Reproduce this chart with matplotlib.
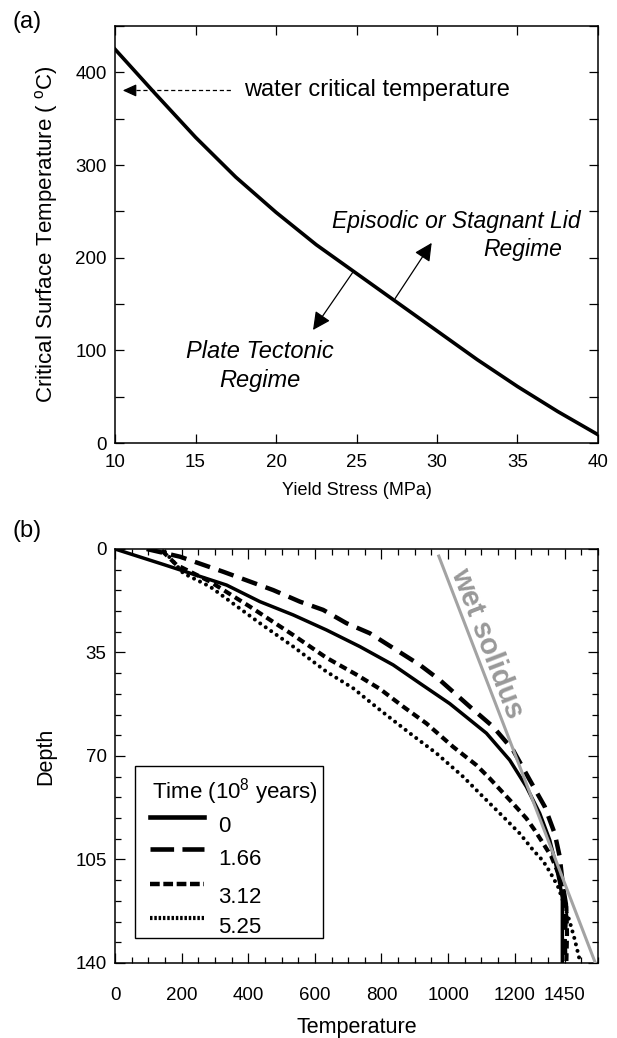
import numpy as np
import matplotlib
matplotlib.use('Agg')
import matplotlib.pyplot as plt
from matplotlib.ticker import MultipleLocator
from matplotlib.patches import Rectangle

plt.rcParams['font.family'] = ['Liberation Sans', 'DejaVu Sans']
plt.rcParams['mathtext.default'] = 'regular'
plt.rcParams['lines.scale_dashes'] = False

# (a) critical surface temperature vs yield stress
yield_stress = [10, 12.5, 15, 17.5, 20, 22.5, 25, 27.5, 30, 32.5, 35, 37.5, 40]
crit_temp = [425, 377, 330, 287, 249, 214, 183, 152, 121, 90, 61, 34, 9]

# (b) geotherms, temperature vs depth
time_labels = ['0', '1.66', '3.12', '5.25']
temp_0 = [0, 150, 335, 435, 535, 635, 735, 835, 915, 1005, 1115, 1185, 1235, 1275, 1305, 1322, 1335, 1343, 1343]
depth_0 = [0, 5.4, 12.2, 17.8, 22.3, 27.4, 33, 39.2, 45.4, 52.3, 62.3, 71.4, 80.4, 89.4, 98.4, 106, 113, 118, 140]
temp_1 = [95, 195, 325, 475, 555, 625, 695, 765, 845, 915, 975, 1065, 1135, 1195, 1245, 1290, 1320, 1335,
          1345, 1355, 1350, 1352]
depth_1 = [0, 2.6, 7.7, 13.9, 17.8, 20.6, 25.1, 28.5, 34.2, 39.2, 44.3, 53.3, 60.1, 68, 78.1, 87.1, 96.2, 104,
           114.2, 121, 132, 140]
temp_2 = [140, 185, 285, 405, 535, 635, 725, 795, 865, 935, 1015, 1085, 1125, 1195, 1235, 1260, 1285, 1310,
          1335, 1355, 1357, 1355]
depth_2 = [0.5, 5.4, 11, 19.5, 29.1, 36.8, 42.5, 47.3, 53.3, 59, 66.9, 73.1, 77.6, 86.1, 91.1, 95.1, 99.5, 104,
           110.8, 121, 130, 140]
temp_3 = [150, 205, 285, 435, 535, 635, 715, 795, 885, 965, 1045, 1105, 1165, 1215, 1255, 1285, 1305, 1330,
          1345, 1365, 1380, 1395]
depth_3 = [1, 8.2, 12.7, 25.1, 33, 41.5, 47.1, 54.4, 62.3, 69.1, 77, 83.8, 90.5, 96.2, 101.8, 105.5, 109.1,
           114.2, 119, 126, 132, 139]
solidus_temp = [972, 1442]
solidus_depth = [2.4, 140]

fig = plt.figure(figsize=(6.17, 10.38), dpi=100)
ax1 = fig.add_axes([0.1864, 0.5732, 0.7828, 0.4017])
ax2 = fig.add_axes([0.1864, 0.0723, 0.7828, 0.3988])

for ax in (ax1, ax2):
    for s in ax.spines.values():
        s.set_linewidth(1.1)

# ---- panel (a)
ax1.plot(yield_stress, crit_temp, color='k', lw=2.6)
ax1.set_xlim(10, 40)
ax1.set_ylim(0, 450)
ax1.set_xticks(np.arange(10, 41, 5))
ax1.set_yticks(np.arange(0, 401, 100))
ax1.yaxis.set_minor_locator(MultipleLocator(50))
ax1.tick_params(which='both', direction='in', top=True, right=True, length=6.5, width=0.9, labelsize=13.5)
ax1.tick_params(axis='x', pad=8)
ax1.tick_params(axis='y', pad=6)
ax1.set_xlabel('Yield Stress (MPa)', fontsize=13, labelpad=8)
ax1.set_ylabel('Critical Surface Temperature ( $^{o}$C)', fontsize=16, labelpad=11)

ax1.plot([10.9, 17.25], [380.5, 380.5], color='k', lw=0.9, ls=(0, (3, 2)))
ax1.annotate('', xy=(10.48, 380.5), xytext=(11.2, 380.5),
             arrowprops=dict(arrowstyle='-|>,head_length=0.55,head_width=0.25', color='k', lw=0.9,
                             shrinkA=0, shrinkB=0, mutation_scale=15))
ax1.text(18.0, 380.5, 'water critical temperature', fontsize=17, ha='left', va='center')

ax1.text(38.9, 239, 'Episodic or Stagnant Lid', fontsize=16.5, style='italic', ha='right', va='center')
ax1.text(37.8, 208.6, 'Regime', fontsize=16.5, style='italic', ha='right', va='center')
ax1.annotate('', xy=(29.67, 216), xytext=(27.4, 156),
             arrowprops=dict(arrowstyle='-|>,head_length=0.6,head_width=0.3', color='k', lw=0.9,
                             shrinkA=0, shrinkB=0, mutation_scale=18))
ax1.text(19.0, 98.7, 'Plate Tectonic', fontsize=17, style='italic', ha='center', va='center')
ax1.text(19.0, 68, 'Regime', fontsize=17, style='italic', ha='center', va='center')
ax1.annotate('', xy=(22.3, 122), xytext=(24.8, 185),
             arrowprops=dict(arrowstyle='-|>,head_length=0.6,head_width=0.3', color='k', lw=0.9,
                             shrinkA=0, shrinkB=0, mutation_scale=18))

# ---- panel (b)
styles = [dict(lw=2.5, ls='-'),
          dict(lw=3.2, ls=(0, (11.5, 6.5))),
          dict(lw=3.0, ls=(0, (5.6, 3.4))),
          dict(lw=2.9, ls=(0, (0.01, 4.8)), dash_capstyle='round')]
series = [(temp_0, depth_0), (temp_1, depth_1), (temp_2, depth_2), (temp_3, depth_3)]
for (t, d), st in zip(series, styles):
    ax2.plot(t, d, color='k', **st)

ax2.plot(solidus_temp, solidus_depth, color='#a3a3a3', lw=2.2, zorder=3)

ax2.set_xlim(0, 1450)
ax2.set_ylim(140, 0)
ax2.set_xticks([0, 200, 400, 600, 800, 1000, 1200, 1350])
ax2.set_xticklabels(['0', '200', '400', '600', '800', '1000', '1200', '1450'])
ax2.set_yticks([0, 35, 70, 105, 140])
ax2.xaxis.set_minor_locator(MultipleLocator(50))
ax2.yaxis.set_minor_locator(MultipleLocator(7))
ax2.tick_params(which='both', direction='in', top=True, right=True, width=0.9, labelsize=13.5)
ax2.tick_params(which='major', length=7)
ax2.tick_params(which='minor', length=4)
ax2.tick_params(axis='x', pad=17)
ax2.tick_params(axis='y', pad=6)
ax2.set_xlabel('Temperature', fontsize=15.5, labelpad=10)
ax2.set_ylabel('Depth', fontsize=15.5, labelpad=14)

p1 = ax2.transData.transform((solidus_temp[0], solidus_depth[0]))
p2 = ax2.transData.transform((solidus_temp[1], solidus_depth[1]))
ang = np.degrees(np.arctan2(p2[1] - p1[1], p2[0] - p1[0]))
ax2.text(1117, 32, 'wet solidus', fontsize=21, fontweight='bold', color='#999999',
         rotation=ang, rotation_mode='anchor', ha='center', va='center')

# legend drawn by hand (label sits below-right of its line)
ax2.add_patch(Rectangle((0.041, 0.060), 0.39, 0.416, transform=ax2.transAxes,
                        facecolor='white', edgecolor='k', lw=1.0, zorder=5))
ax2.text(0.249, 0.413, 'Time (10$^{8}$ years)', transform=ax2.transAxes, fontsize=16,
         ha='center', va='center', zorder=6)
legend_styles = [dict(lw=3.3, ls='-'),
                 dict(lw=3.3, ls=(0, (17, 6))),
                 dict(lw=3.2, ls=(0, (7, 2.6))),
                 dict(lw=3.0, ls=(0, (1.8, 1.3)))]
handle_y = [0.353, 0.275, 0.191, 0.109]
label_y = [0.329, 0.251, 0.159, 0.085]
for lab, st, hy, ly in zip(time_labels, legend_styles, handle_y, label_y):
    ax2.plot([0.072, 0.184], [hy, hy], transform=ax2.transAxes, color='k', zorder=6, **st)
    ax2.text(0.213, ly, lab, transform=ax2.transAxes, fontsize=16, ha='left', va='center', zorder=6)

fig.text(27 / 617, 1 - 22 / 1038, '(a)', fontsize=17, ha='center', va='center')
fig.text(27 / 617, 1 - 531 / 1038, '(b)', fontsize=17, ha='center', va='center')

fig.savefig('out.png', dpi=100)
